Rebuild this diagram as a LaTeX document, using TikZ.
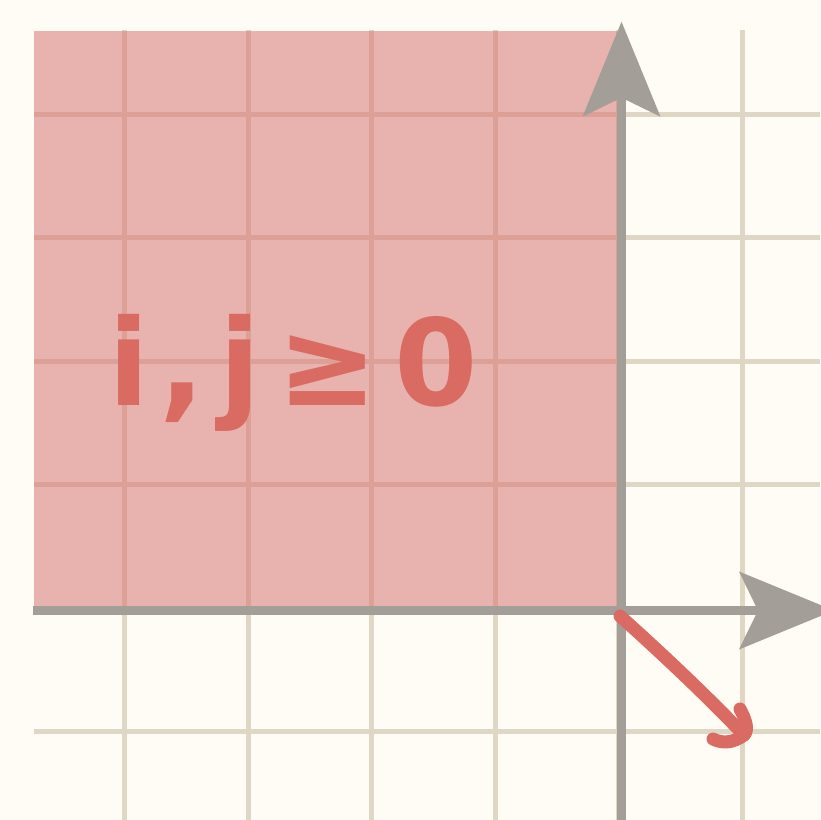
\documentclass[tikz,border=0pt]{standalone}
\usepackage{fontspec}
\newfontfamily\handfont{DejaVu Sans}
\usetikzlibrary{arrows.meta}
\definecolor{paper}{HTML}{FFFBF5}
\definecolor{gridbeige}{HTML}{E0D6C4}
\definecolor{quadpink}{HTML}{E8B3AE}
\definecolor{gridpink}{HTML}{DCA097}
\definecolor{axisgray}{HTML}{A39E97}
\definecolor{chalkred}{HTML}{D96B63}
\begin{document}
\begin{tikzpicture}[x=1pt, y=-1pt, line width=5pt,
    axis/.style={draw=axisgray, line width=9pt, -{Stealth[length=95pt, width=78pt, inset=19pt, line width=0pt]}},
    chalk/.style={draw=chalkred, line width=13pt, line cap=round, line join=round}]
   \useasboundingbox (0,0) rectangle (820,820);
   \fill[paper] (0,0) rectangle (820,820);
   \foreach \k in {0,...,5} {
      \draw[gridbeige] (124.5+123.5*\k,30) -- (124.5+123.5*\k,820);
      \draw[gridbeige] (34,114+123.5*\k) -- (820,114+123.5*\k);
   }
   \fill[quadpink] (34,31) rectangle (617,606);
   \begin{scope}
      \clip (34,31) rectangle (617,606);
      \foreach \k in {0,...,4} {
         \draw[gridpink] (124.5+123.5*\k,30) -- (124.5+123.5*\k,610);
         \draw[gridpink] (34,114+123.5*\k) -- (620,114+123.5*\k);
      }
   \end{scope}
   \coordinate (xstart) at (33,610.5);
   \coordinate (xend) at (834,610.5);
   \coordinate (ystart) at (621.5,820);
   \coordinate (yend) at (621.5,21.7);
   \draw[axis] (xstart) -- (xend);
   \draw[axis] (ystart) -- (yend);
   \node (cond) at (106,405) [anchor=base west, inner sep=0pt, text=chalkred,
      font=\handfont\bfseries\fontsize{120}{120}\selectfont] {i\hspace{0.08em},\hspace{0.12em}j\hspace{0.14em}≥\hspace{0.14em}0};
   \coordinate (vstart) at (620,616);
   \coordinate (vtip) at (744,735);
   \draw[chalk] (vstart) .. controls (660,652) and (705,694) .. (vtip);
   \draw[chalk] (740,709) .. controls (746,720) and (749,730) .. (vtip) .. controls (732,744) and (721,743) .. (713,739);
\end{tikzpicture}
\end{document}
